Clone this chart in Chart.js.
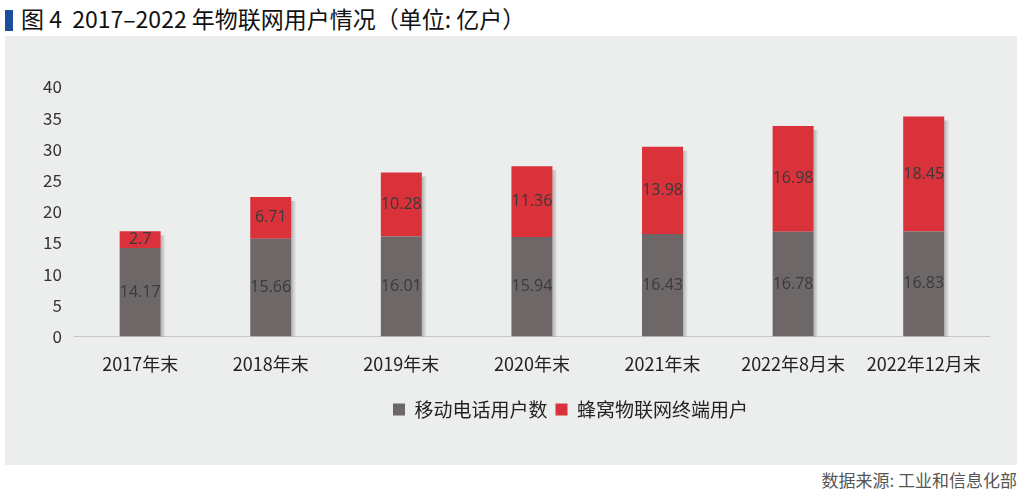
<!DOCTYPE html>
<html>
<head>
<meta charset="utf-8">
<script src="https://cdn.jsdelivr.net/npm/chart.js@4"></script>
<style>
  body { margin: 0; width: 1024px; height: 500px; background: #fff; position: relative; overflow: hidden;
         font-family: "Noto Sans CJK SC", "Noto Sans", sans-serif; }
  #title { position: absolute; left: 5px; top: 3px; font-size: 23px; color: #111; line-height: 30px; white-space: pre; }
  #title .mark { display: inline-block; width: 8px; height: 21px; background: #1a4f9c; vertical-align: -3px; margin-right: 8px; }
  #panel { position: absolute; left: 5px; top: 36px; width: 1012px; height: 429px; background: #eceeee; }
  #src { position: absolute; right: 7px; top: 467px; font-size: 17px; color: #555; }
  #chart { position: absolute; left: 0; top: 0; }
</style>
</head>
<body>
<div id="title"><span class="mark"></span>图 4  2017–2022 年物联网用户情况（单位: 亿户）</div>
<div id="panel"></div>
<div id="src">数据来源: 工业和信息化部</div>
<canvas id="chart" width="1024" height="500"></canvas>
<script>
Chart.defaults.font.family = "'Noto Sans CJK SC', 'Noto Sans', sans-serif";
Chart.defaults.color = "#333";

// 年份 / 系列
var periods = ["2017年末", "2018年末", "2019年末", "2020年末", "2021年末", "2022年8月末", "2022年12月末"];
var mobileUsers = [14.17, 15.66, 16.01, 15.94, 16.43, 16.78, 16.83];
var iotUsers = [2.7, 6.71, 10.28, 11.36, 13.98, 16.98, 18.45];
var seriesNames = ["移动电话用户数", "蜂窝物联网终端用户"];

// 柱子上的数字, 没有 datalabels 插件所以自己画
var barLabels = {
  id: "barLabels",
  afterDatasetsDraw: function (chart) {
    var ctx = chart.ctx;
    ctx.save();
    ctx.font = "16px 'Open Sans', 'Noto Sans', sans-serif";
    ctx.fillStyle = "#3a3a3a";
    ctx.textAlign = "center";
    ctx.textBaseline = "middle";
    chart.data.datasets.forEach(function (ds, i) {
      chart.getDatasetMeta(i).data.forEach(function (bar, j) {
        var mid = (bar.y + bar.base) / 2;
        ctx.fillText(String(ds.data[j]), bar.x, mid);
      });
    });
    ctx.restore();
  }
};

// 柱子右侧的阴影
var barShadow = {
  id: "barShadow",
  beforeDatasetsDraw: function (chart) {
    var ctx = chart.ctx;
    ctx.save();
    var metaTop = chart.getDatasetMeta(1).data;
    metaTop.forEach(function (bar) {
      var w = bar.width;
      var base = chart.scales.y.getPixelForValue(0);
      var g = ctx.createLinearGradient(bar.x + w / 2, 0, bar.x + w / 2 + 5, 0);
      g.addColorStop(0, "rgba(0,0,0,0.25)");
      g.addColorStop(1, "rgba(0,0,0,0)");
      ctx.fillStyle = g;
      ctx.fillRect(bar.x + w / 2, bar.y + 4, 5, base - bar.y - 4);
    });
    ctx.restore();
  }
};

// 图例在原图里偏右一点
var legendShift = {
  id: "legendShift",
  afterLayout: function (chart) {
    chart.legend.left += 61;
    chart.legend.right += 61;
  }
};

new Chart("chart", {
  type: "bar",
  data: {
    labels: periods,
    datasets: [
      { label: seriesNames[0], data: mobileUsers, backgroundColor: "#6d6867",
        categoryPercentage: 1, barPercentage: 0.314 },
      { label: seriesNames[1], data: iotUsers, backgroundColor: "#d9323b",
        categoryPercentage: 1, barPercentage: 0.314 }
    ]
  },
  plugins: [barShadow, barLabels, legendShift],
  options: {
    responsive: false,
    animation: false,
    layout: { padding: { left: 30, right: 35, top: 87, bottom: 71 } },
    scales: {
      x: {
        stacked: true,
        grid: { display: false, drawTicks: false },
        border: { color: "#c8c8c8" },
        ticks: { color: "#222", font: { size: 18 }, padding: 17 }
      },
      y: {
        stacked: true,
        min: 0, max: 40,
        grid: { display: false, drawTicks: false },
        border: { display: false },
        ticks: { stepSize: 5, color: "#333", font: { size: 17 }, padding: 13 }
      }
    },
    plugins: {
      legend: {
        position: "bottom",
        labels: { boxWidth: 12, boxHeight: 12, padding: 8, color: "#222", font: { size: 19 } }
      },
      tooltip: { enabled: false }
    }
  }
});
</script>
</body>
</html>
